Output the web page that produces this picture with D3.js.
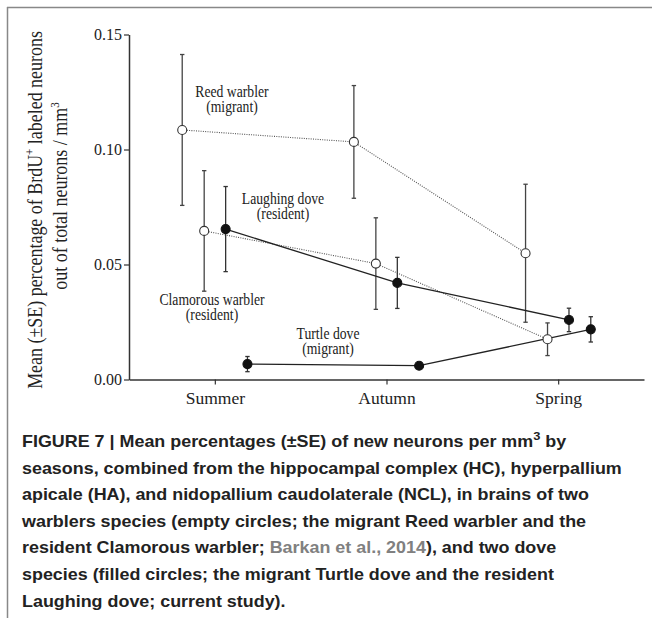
<!DOCTYPE html>
<html><head><meta charset="utf-8">
<script src="https://cdn.jsdelivr.net/npm/d3@7"></script>
<style>body{margin:0;background:#fff}svg{display:block}</style>
</head><body>
<script>
const seasons = ["Summer", "Autumn", "Spring"];
const yTicks = [0.00, 0.05, 0.10, 0.15];
const reedMean = [0.1085, 0.1033, 0.0549];
const reedSE = [0.0328, 0.0245, 0.0300];
const clamMean = [0.0646, 0.0504, 0.0175];
const clamSE = [0.0262, 0.0199, 0.0071];
const laughMean = [0.0654, 0.0420, 0.0259];
const laughSE = [0.0185, 0.0111, 0.0051];
const turtleMean = [0.0067, 0.0060, 0.0218];
const turtleSE = [0.0033, 0.0012, 0.0055];
const speciesNames = ["Reed warbler", "Clamorous warbler", "Laughing dove", "Turtle dove"];
const speciesStatus = ["(migrant)", "(resident)", "(resident)", "(migrant)"];

const W = 652, H = 618;
const svg = d3.select("body").append("svg").attr("width", W).attr("height", H);

// frame
svg.append("line").attr("x1", 7).attr("x2", W).attr("y1", 7.5).attr("y2", 7.5).attr("stroke", "#888").attr("stroke-width", 1.5);
svg.append("line").attr("x1", 7.5).attr("x2", 7.5).attr("y1", 7).attr("y2", H).attr("stroke", "#888").attr("stroke-width", 1.5);

const x = d3.scaleLinear().domain([-0.5, 2.5]).range([129, 644]);
const y = d3.scaleLinear().domain([0, 0.15]).range([379.5, 34.5]);

const serif = "'Liberation Serif', 'Times New Roman', serif";
const axisColor = "#333";

// axes
const yAxis = svg.append("g").attr("transform", `translate(${x(-0.5)},0)`)
  .call(d3.axisLeft(y).tickValues(yTicks).tickFormat(d3.format(".2f")).tickSize(5).tickSizeOuter(0).tickPadding(2));
const xAxis = svg.append("g").attr("transform", `translate(0,${y(0)})`)
  .call(d3.axisBottom(x).tickValues([0, 1, 2]).tickFormat(i => seasons[i]).tickSize(5).tickSizeOuter(0).tickPadding(5));
[yAxis, xAxis].forEach(g => {
  g.select(".domain").attr("stroke", axisColor).attr("stroke-width", 1.5);
  g.selectAll(".tick line").attr("stroke", axisColor).attr("stroke-width", 1.2);
  g.selectAll("text").attr("fill", "#222").attr("font-family", serif);
});
yAxis.selectAll("text").attr("font-size", 16);
xAxis.selectAll("text").attr("font-size", 17.5).attr("dy", "0.85em");

// y title (condensed serif)
const yt = svg.append("text").attr("font-family", serif).attr("font-size", 21).attr("fill", "#222")
  .attr("text-anchor", "middle").attr("transform", "translate(42,210) rotate(-90) scale(0.855,1)");
yt.append("tspan").text("Mean (\u00B1SE) percentage of BrdU");
yt.append("tspan").text("+").attr("font-size", 13).attr("dy", -8);
yt.append("tspan").text(" labeled neurons").attr("dy", 8);
const yt2 = svg.append("text").attr("font-family", serif).attr("font-size", 21).attr("fill", "#222")
  .attr("text-anchor", "middle").attr("transform", "translate(67,196) rotate(-90) scale(0.855,1)");
yt2.append("tspan").text("out of total neurons / mm");
yt2.append("tspan").text("3").attr("font-size", 13).attr("dy", -8);

// series
const series = [
  {mean: reedMean, se: reedSE, off: -0.19, open: true},
  {mean: clamMean, se: clamSE, off: -0.062, open: true},
  {mean: laughMean, se: laughSE, off: 0.063, open: false},
  {mean: turtleMean, se: turtleSE, off: 0.19, open: false}
];
const lineGen = d3.line().x(d => x(d.i + d.off)).y(d => y(d.m));
series.forEach(s => {
  const pts = s.mean.map((m, i) => ({i, m, se: s.se[i], off: s.off}));
  const eb = svg.append("g").attr("stroke", s.open ? "#444" : "#333").attr("stroke-width", 1.3);
  pts.forEach(p => {
    const cx = x(p.i + p.off);
    eb.append("line").attr("x1", cx).attr("x2", cx).attr("y1", y(p.m + p.se)).attr("y2", y(p.m - p.se));
    [p.m + p.se, p.m - p.se].forEach(v => eb.append("line").attr("x1", cx - 2.2).attr("x2", cx + 2.2).attr("y1", y(v)).attr("y2", y(v)));
  });
  svg.append("path").datum(pts).attr("d", lineGen).attr("fill", "none")
    .attr("stroke", s.open ? "#555" : "#222")
    .attr("stroke-width", s.open ? 1.1 : 1.3)
    .attr("stroke-dasharray", s.open ? "1,1.3" : null);
});
series.forEach(s => {
  svg.append("g").selectAll("circle").data(s.mean.map((m, i) => ({i, m}))).join("circle")
    .attr("cx", d => x(d.i + s.off)).attr("cy", d => y(d.m)).attr("r", 4.5)
    .attr("fill", s.open ? "#fff" : "#111").attr("stroke", s.open ? "#333" : "#111").attr("stroke-width", 1.1);
});

// species labels (condensed serif)
const labelPos = [[232, 96.7], [212, 305], [283, 204], [328, 339]];
speciesNames.forEach((n, k) => {
  const g = svg.append("g").attr("transform", `translate(${labelPos[k][0]},${labelPos[k][1]}) scale(0.855,1)`);
  const t = g.append("text").attr("font-family", serif).attr("font-size", 16).attr("fill", "#222")
    .attr("text-anchor", "middle");
  t.append("tspan").attr("x", 0).attr("y", 0).text(n);
  t.append("tspan").attr("x", 0).attr("y", 15.5).text(speciesStatus[k]);
});

// caption
const sans = "'Liberation Sans', Arial, Helvetica, sans-serif";
const capLines = [
  [["FIGURE 7 | Mean percentages (\u00B1SE) of new neurons per mm"], ["3", "sup"], [" by", "after"]],
  [["seasons, combined from the hippocampal complex (HC), hyperpallium"]],
  [["apicale (HA), and nidopallium caudolaterale (NCL), in brains of two"]],
  [["warblers species (empty circles; the migrant Reed warbler and the"]],
  [["resident Clamorous warbler; "], ["Barkan et al., 2014", "link"], ["), and two dove"]],
  [["species (filled circles; the migrant Turtle dove and the resident"]],
  [["Laughing dove; current study)."]]
];
capLines.forEach((parts, li) => {
  const g = svg.append("g").attr("transform", `translate(22,${447 + li * 26.6}) scale(1.12,1)`);
  const t = g.append("text").attr("x", 0).attr("y", 0)
    .attr("font-family", sans).attr("font-weight", "bold").attr("font-size", 16).attr("fill", "#222");
  parts.forEach(([txt, kind]) => {
    const ts = t.append("tspan").text(txt);
    if (kind === "sup") ts.attr("font-size", 11.5).attr("dy", -7);
    else if (kind === "after") ts.attr("dy", 7);
    else if (kind === "link") ts.attr("fill", "#808080");
  });
});
</script>
</body></html>
